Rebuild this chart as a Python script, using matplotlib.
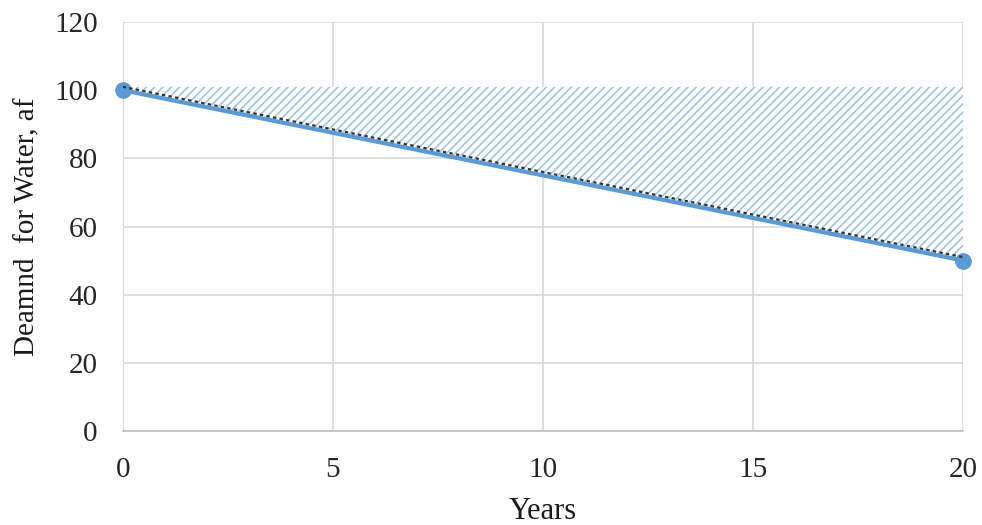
import numpy as np
import matplotlib.pyplot as plt

years = [0, 20]
demand = [100, 50]
supply_top = [101, 101]   # top of the hatched area
trend = [101, 51]         # dotted trend line

plt.rcParams['font.family'] = ['Liberation Serif', 'DejaVu Serif']
plt.rcParams['hatch.linewidth'] = 1.2
plt.rcParams['hatch.color'] = '#9ec2e6'

fig = plt.figure(figsize=(9.82, 5.25), dpi=100)
ax = fig.add_axes([0.125, 0.179, 0.856, 0.779])

ax.fill_between(years, demand, supply_top, facecolor='white', edgecolor='#9ec2e6',
                hatch='////', linewidth=0, zorder=2)
ax.plot(years, demand, color='#5b9bd5', linewidth=3, marker='o', markersize=11,
        zorder=3, clip_on=False)
ax.plot(years, trend, color='#333333', linewidth=1.6, linestyle=(0, (1.5, 1.5)), zorder=4)

ax.set_xlim(0, 20)
ax.set_ylim(0, 120)
ax.set_xticks([0, 5, 10, 15, 20])
ax.set_yticks(np.arange(0, 121, 20))
ax.grid(True, color='#d9d9d9', linewidth=1.2, zorder=0)
ax.set_axisbelow(True)
for s in ['top', 'right']:
    ax.spines[s].set_visible(False)
ax.spines['left'].set_color('#d9d9d9')
ax.spines['bottom'].set_color('#bfbfbf')
ax.spines['bottom'].set_linewidth(1.2)
ax.tick_params(length=0, labelsize=21, colors='#262626')
ax.tick_params(axis='x', pad=19)
ax.tick_params(axis='y', pad=18)
ax.set_xlabel('Years', fontsize=22, color='#1a1a1a', labelpad=10)
ax.set_ylabel('Deamnd  for Water, af', fontsize=21, color='#1a1a1a', labelpad=10)

fig.savefig('out.png', dpi=100)
